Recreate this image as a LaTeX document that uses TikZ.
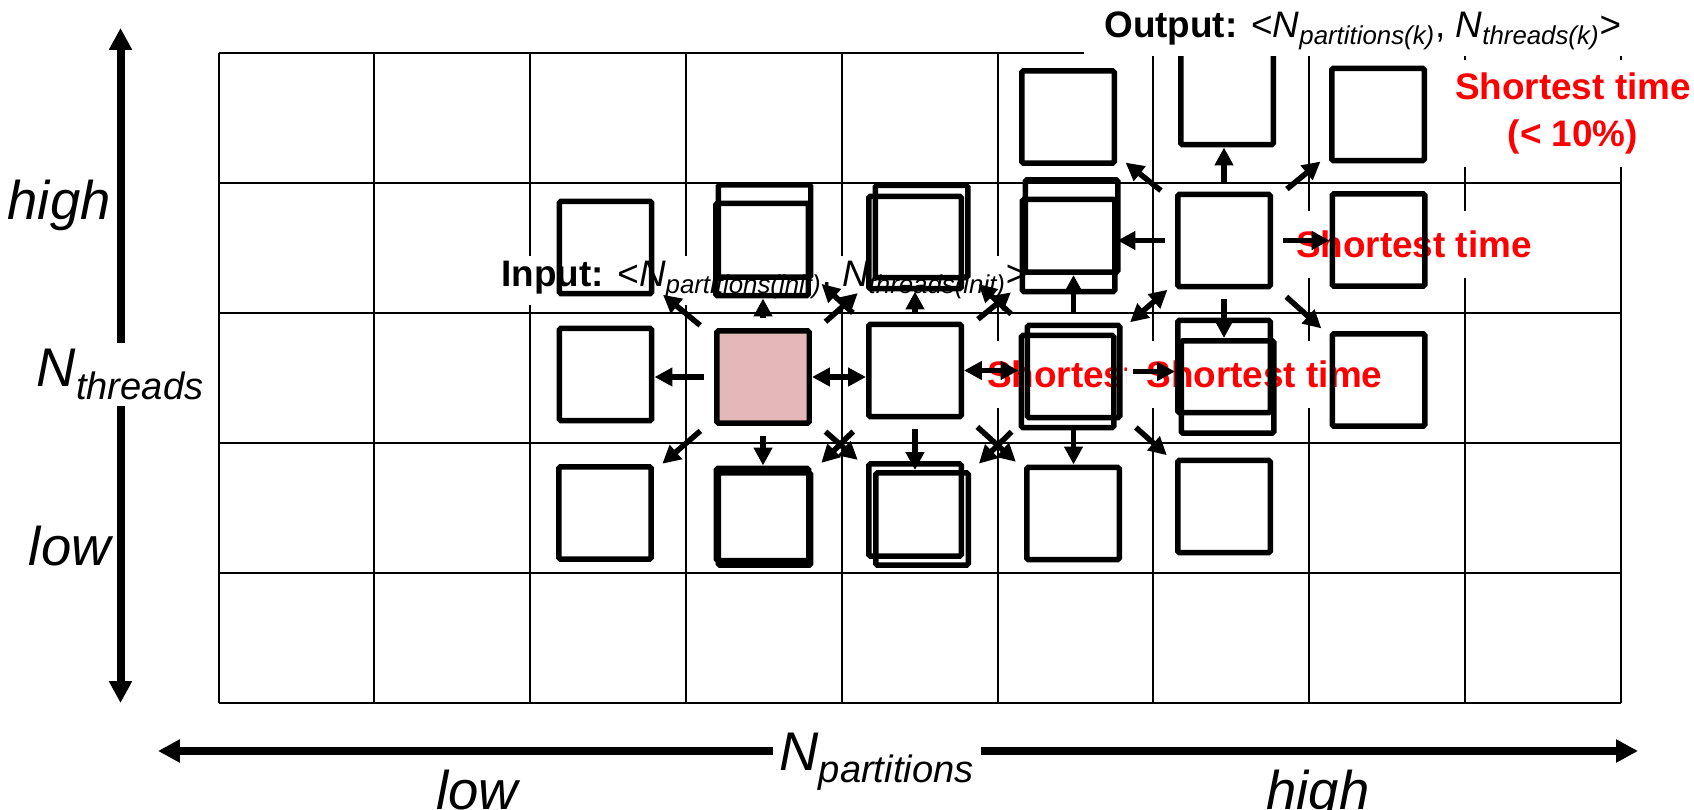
\documentclass[tikz,border=0pt]{standalone}
\usepackage{fontspec}
\setmainfont{Liberation Sans}
\usetikzlibrary{arrows.meta}

\definecolor{startfill}{RGB}{228,184,184}
\newcommand{\Nsub}[1]{\textit{N}\textsubscript{\textit{#1}}}

\begin{document}
\begin{tikzpicture}[
    x=0.02cm, y=-0.02cm,
    gridline/.style={line width=0.04cm, black},
    cfg/.style={
      draw, line width=0.11cm, rectangle, rounded corners=1pt,
      minimum size=1.85cm, inner sep=0pt,
    },
    startcfg/.style={cfg, fill=startfill},
    probe/.style={-{Triangle[length=0.36cm, width=0.36cm]}, line width=0.11cm,
      shorten <=0.2cm},
    probediag/.style={probe, shorten <=0.36cm, shorten >=0.22cm},
    twoway/.style={{Triangle[length=0.36cm, width=0.36cm]}-{Triangle[length=0.36cm, width=0.36cm]},
      line width=0.11cm},
    axisarrow/.style={-{Triangle[length=0.44cm, width=0.44cm]}, line width=0.16cm},
    axislabel/.style={font=\fontsize{31}{37}\selectfont\itshape},
    tag/.style={
      font=\fontsize{21}{27}\selectfont, fill=white,
      inner xsep=0.4cm, inner ysep=0.12cm,
    },
    best/.style={
      font=\fontsize{21}{26.7}\selectfont\bfseries, text=red,
      fill=white, inner sep=0.4cm,
    },
]
\useasboundingbox (0,0) rectangle (1694,810);

% Grid of configurations
\foreach \i in {0,...,9}
  \draw[gridline] ({218.5+155.8*\i},53) -- ({218.5+155.8*\i},703);
\foreach \j in {0,...,5}
  \draw[gridline] (218.5,{53+130*\j}) -- (1620.7,{53+130*\j});

% Top box sits under the output tag
\node[cfg] (c6r0) at (1227,98.5) {};

% Tags
\node[tag, anchor=base west] (intag) at (481,287)
    {\textbf{Input:} <\Nsub{partitions(init)}, \Nsub{threads(init)}>};
\node[tag, anchor=base west] (outtag) at (1084,38)
    {\textbf{Output:} <\Nsub{partitions(k)}, \Nsub{threads(k)}>};

\node[best, inner sep=0.25cm, align=center, anchor=north] (goal) at (1573,60)
    {Shortest time\\(< 10\%)};
\node[best, anchor=base] (best1) at (1414,258) {Shortest time};
\node[best, anchor=base] (best2) at (1105,388) {Shortest time};
\node[best, anchor=base] (best3) at (1264.5,388) {Shortest time};

% Neighbour configurations
\node[cfg] (c2r1) at (605.5,247.5) {};
\node[cfg] (c2r2) at (605.5,374.5) {};
\node[cfg] (c2r3) at (605,513) {};
\node[cfg] (c3r1a) at (764.5,231) {};
\node[cfg] (c3r1b) at (762,249.5) {};
\node[startcfg] (c3r2) at (763,377) {};
\node[cfg] (c3r3a) at (762.5,514.5) {};
\node[cfg] (c3r3b) at (764.5,519) {};
\node[cfg] (c4r1a) at (921.5,231.5) {};
\node[cfg] (c4r1b) at (915,242.5) {};
\node[cfg] (c4r2) at (915,370.5) {};
\node[cfg] (c4r3a) at (915,510) {};
\node[cfg] (c4r3b) at (922,519) {};
\node[cfg] (c5r0) at (1068,117) {};
\node[cfg] (c5r1a) at (1071.5,226) {};
\node[cfg] (c5r1b) at (1068.5,245.5) {};
\node[cfg] (c5r2a) at (1073.5,371.5) {};
\node[cfg] (c5r2b) at (1067.5,381.5) {};
\node[cfg] (c5r3) at (1073,513.5) {};
\node[cfg] (c6r1) at (1224,240.5) {};
\node[cfg] (c6r2a) at (1224,366.5) {};
\node[cfg] (c6r2b) at (1227.5,387) {};
\node[cfg] (c6r3) at (1224,506.5) {};
\node[cfg] (c7r0) at (1378,114.5) {};
\node[cfg] (c7r1) at (1378.5,240) {};
\node[cfg] (c7r2) at (1378.5,380) {};

% Step 1: from the start configuration
\draw[probe] (c3r2.north) -- (c3r2.north |- c3r1b.south);
\draw[probe] (c3r2.west) -- (c2r2.east |- c3r2.west);
\draw[probe] (c3r2.south) -- (c3r2.south |- c3r3a.north);
\draw[probediag] (c3r2) -- (c2r1);
\draw[probediag] (c3r2) -- (c2r3);
\draw[probediag] (c3r2) -- (c4r1b);
\draw[probediag] (c3r2) -- (c4r3a);
\draw[twoway] (c3r2.east) -- (c4r2.west |- c3r2.east);

% Step 2
\draw[probe] (c4r2.north) -- (c4r2.north |- c4r1b.south);
\draw[probe] (c4r2.south) -- (c4r2.south |- c4r3b.north);
\draw[probediag] (c4r2) -- (c3r1a);
\draw[probediag] (c4r2) -- (c3r3b);
\draw[probediag] (c4r2) -- (c5r1b);
\draw[probediag] (c4r2) -- (c5r3);
\draw[twoway] (c4r2.east) -- (c5r2b.west |- c4r2.east);

% Step 3
\draw[probe] (c5r2a.north) -- (c5r2a.north |- c5r1a.south);
\draw[probe] (c5r2a.south) -- (c5r2a.south |- c5r3.north);
\draw[probe] (c5r2a.east) -- (c6r2a.west |- c5r2a.east);
\draw[probediag] (c5r2a) -- (c4r1a);
\draw[probediag] (c5r2a) -- (c4r3b);
\draw[probediag] (c5r2a) -- (c6r3);
\draw[twoway, shorten <=0.2cm, shorten >=0.2cm] (c5r2a) -- (c6r1);

% Step 4
\draw[probe] (c6r1.north) -- (c6r1.north |- c6r0.south);
\draw[probe] (c6r1.south) -- (c6r1.south |- c6r2b.north);
\draw[probe] (c6r1.west) -- (c5r1b.east |- c6r1.west);
\draw[probe] (c6r1.east) -- (c7r1.west |- c6r1.east);
\draw[probediag] (c6r1) -- (c5r0);
\draw[probediag] (c6r1) -- (c7r0);
\draw[probediag] (c6r1) -- (c7r2);

% Threads axis
\coordinate (ytop) at (120.5,28);
\coordinate (ybot) at (120.5,703);
\node[axislabel, anchor=base] (nthreads) at (120.5,387) {\Nsub{threads}};
\draw[axisarrow] (nthreads.north) -- (ytop);
\draw[axisarrow] (nthreads.south) -- (ybot);
\node[axislabel, anchor=base east, inner sep=0pt] (yhigh) at (111,220) {high};
\node[axislabel, anchor=base east, inner sep=0pt] (ylow) at (111,566) {low};

% Partitions axis
\coordinate (xleft) at (158,751);
\coordinate (xright) at (1638,751);
\node[axislabel, anchor=base] (npart) at (877,770) {\Nsub{partitions}};
\draw[axisarrow] (npart.west |- xleft) -- (xleft);
\draw[axisarrow] (npart.east |- xright) -- (xright);
\node[axislabel, anchor=base] (xlow) at (477,809) {low};
\node[axislabel, anchor=base] (xhigh) at (1318,809) {high};
\end{tikzpicture}
\end{document}
